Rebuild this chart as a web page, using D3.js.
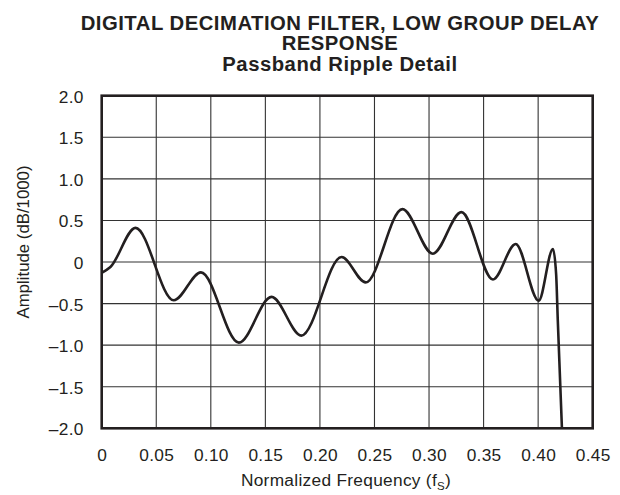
<!DOCTYPE html>
<html>
<head>
<meta charset="utf-8">
<script src="https://cdn.jsdelivr.net/npm/d3@7"></script>
<style>
  html, body { margin: 0; padding: 0; background: #fff; }
  text { font-family: "Liberation Sans", Arial, Helvetica, sans-serif; fill: #231f20; }
</style>
</head>
<body>
<svg id="chart" width="620" height="495"></svg>
<script>
// ---- data ----
const titleLines = ["DIGITAL DECIMATION FILTER, LOW GROUP DELAY", "RESPONSE", "Passband Ripple Detail"];
const xTicks = [0, 0.05, 0.10, 0.15, 0.20, 0.25, 0.30, 0.35, 0.40, 0.45];
const xTickLabels = ["0", "0.05", "0.10", "0.15", "0.20", "0.25", "0.30", "0.35", "0.40", "0.45"];
const yTicks = [2.0, 1.5, 1.0, 0.5, 0, -0.5, -1.0, -1.5, -2.0];
const yTickLabels = ["2.0", "1.5", "1.0", "0.5", "0", "\u20130.5", "\u20131.0", "\u20131.5", "\u20132.0"];
const frequency = [0, 0.008, 0.031, 0.066, 0.091, 0.1257, 0.1557, 0.183, 0.2198, 0.242, 0.2756, 0.3035, 0.3297, 0.3586, 0.3794, 0.4005, 0.4136, 0.4165, 0.418, 0.4218];
const amplitude = [-0.13, -0.06, 0.41, -0.46, -0.125, -0.97, -0.42, -0.885, 0.06, -0.245, 0.636, 0.10, 0.60, -0.21, 0.216, -0.465, 0.156, -0.15, -0.7, -2.0];

// ---- layout ----
const svg = d3.select("#chart");
const pLeft = 101.7, pRight = 592.7, pTop = 95.7, pBottom = 428.3;
const x = d3.scaleLinear().domain([0, 0.45]).range([pLeft, pRight]);
const y = d3.scaleLinear().domain([-2, 2]).range([pBottom, pTop]);

// title
const title = svg.append("text")
  .attr("text-anchor", "middle")
  .style("font-size", "20.3px").style("font-weight", "bold").style("letter-spacing", "0.5px");
titleLines.forEach((t, i) => {
  title.append("tspan").attr("x", 340).attr("y", 29.5 + i * 20.5).text(t);
});

// grid
const g = svg.append("g");
g.selectAll("line.v").data(xTicks).enter().append("line")
  .attr("x1", d => x(d)).attr("x2", d => x(d))
  .attr("y1", pTop).attr("y2", pBottom)
  .attr("stroke", "#333").attr("stroke-width", 1.1);
g.selectAll("line.h").data(yTicks).enter().append("line")
  .attr("x1", pLeft).attr("x2", pRight)
  .attr("y1", d => y(d)).attr("y2", d => y(d))
  .attr("stroke", "#333").attr("stroke-width", 1.1);

// curve
svg.append("clipPath").attr("id", "clip").append("rect")
  .attr("x", pLeft).attr("y", pTop).attr("width", pRight - pLeft).attr("height", pBottom - pTop);
const pts = frequency.map((f, i) => [f, amplitude[i]]);
const line = d3.line().x(d => x(d[0])).y(d => y(d[1])).curve(d3.curveMonotoneX);
svg.append("path").datum(pts)
  .attr("d", line)
  .attr("clip-path", "url(#clip)")
  .attr("fill", "none").attr("stroke", "#231f20").attr("stroke-width", 2.6)
  .attr("stroke-linejoin", "round");

// border
svg.append("rect")
  .attr("x", pLeft).attr("y", pTop).attr("width", pRight - pLeft).attr("height", pBottom - pTop)
  .attr("fill", "none").attr("stroke", "#231f20").attr("stroke-width", 2.6);

// axes labels (via d3 axes, domain/ticks hidden)
const xAxis = d3.axisBottom(x).tickValues(xTicks).tickSize(0).tickPadding(0)
  .tickFormat((d, i) => xTickLabels[i]);
const xa = svg.append("g").attr("transform", `translate(0,${pBottom + 20})`).call(xAxis);
xa.select(".domain").remove();
xa.selectAll("text").style("font-size", "17.3px").style("letter-spacing", "0.3px").attr("fill", "#231f20")
  .style("font-family", "'Liberation Sans', Arial, sans-serif");

const yAxis = d3.axisLeft(y).tickValues(yTicks).tickSize(0).tickPadding(0)
  .tickFormat((d, i) => yTickLabels[i]);
const ya = svg.append("g").attr("transform", `translate(${pLeft - 18},1)`).call(yAxis);
ya.select(".domain").remove();
ya.selectAll("text").style("font-size", "17.3px").style("letter-spacing", "0.3px").attr("fill", "#231f20")
  .style("font-family", "'Liberation Sans', Arial, sans-serif");

// axis titles
const xt = svg.append("text").attr("x", 346).attr("y", 486)
  .attr("text-anchor", "middle").style("font-size", "17.3px").style("letter-spacing", "0.3px");
xt.append("tspan").text("Normalized Frequency (f");
xt.append("tspan").attr("dy", 4).style("font-size", "11.5px").text("S");
xt.append("tspan").attr("dy", -4).text(")");

svg.append("text")
  .attr("transform", "translate(28.5,242) rotate(-90)")
  .attr("text-anchor", "middle").style("font-size", "16.8px")
  .text("Amplitude (dB/1000)");
</script>
</body>
</html>
